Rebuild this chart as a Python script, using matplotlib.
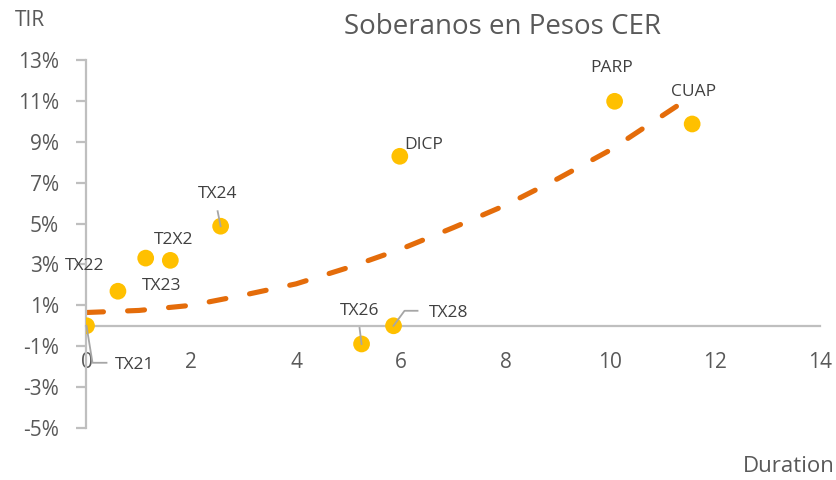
import numpy as np
import matplotlib
matplotlib.use("Agg")
import matplotlib.pyplot as plt
from matplotlib.lines import Line2D
from matplotlib.transforms import IdentityTransform

plt.rcParams['font.family'] = ['Open Sans', 'DejaVu Sans']

# Bond data: duration (years) and TIR (%)
bonds = ['TX21', 'TX22', 'TX23', 'T2X2', 'TX24', 'DICP', 'TX26', 'TX28', 'PARP', 'CUAP']
duration = [0.0, 0.60, 1.13, 1.60, 2.56, 5.98, 5.25, 5.86, 10.08, 11.56]
tir = [0.0, 1.69, 3.31, 3.20, 4.87, 8.29, -0.89, 0.0, 10.98, 9.87]

# Trend line
trend_x = [0.0, 1.0, 2.0, 3.0, 4.0, 5.0, 6.0, 7.0, 8.0, 9.0, 10.0, 11.3]
trend_y = [0.65, 0.75, 1.0, 1.5, 2.05, 2.85, 3.75, 4.8, 5.9, 7.2, 8.6, 10.8]

x_ticks = [0, 2, 4, 6, 8, 10, 12, 14]
y_ticks = [-5, -3, -1, 1, 3, 5, 7, 9, 11, 13]

# label offsets in pixels (dx, dy) and leader line vertices
label_offsets = {
    'TX21': (48, -39), 'TX22': (-33, 25), 'TX23': (16, -28), 'T2X2': (3, 20),
    'TX24': (-3, 32), 'DICP': (24, 11), 'TX26': (-2, 33), 'TX28': (55, 13),
    'PARP': (-3, 33), 'CUAP': (1, 32),
}
leaders = {
    'TX21': [(0, 0), (6, -37), (20, -37)],
    'TX24': [(0, 0), (-3, 15)],
    'TX26': [(0, 0), (-2, 16)],
    'TX28': [(0, 0), (11, 15), (24, 15)],
}

GRAY = '#595959'
DARK = '#404040'
AXIS = '#BFBFBF'

fig = plt.figure(figsize=(8.37, 4.80), dpi=100)
ax = fig.add_axes([86.5 / 837, 1 - 428 / 480, (820 - 86.5) / 837, 368 / 480])
ax.set_xlim(0, 14)
ax.set_ylim(-5, 13)

ax.plot(trend_x, trend_y, color='#E46C0A', lw=3.7, dashes=(3.3, 4.7),
        dash_capstyle='round', solid_capstyle='round', zorder=2)
ax.scatter(duration, tir, s=145, color='#FFC000', edgecolors='none', zorder=3)

for sp in ['top', 'right']:
    ax.spines[sp].set_visible(False)
ax.spines['left'].set_position(('data', 0))
ax.spines['bottom'].set_position(('data', 0))
for sp in ['left', 'bottom']:
    ax.spines[sp].set_color(AXIS)
    ax.spines[sp].set_linewidth(1.6)

ax.set_xticks(x_ticks)
ax.set_xticklabels([str(v) for v in x_ticks])
ax.set_yticks(y_ticks)
ax.set_yticklabels([f'{v}%' for v in y_ticks])
ax.tick_params(axis='x', length=0, pad=19, labelsize=15, labelcolor=GRAY)
ax.tick_params(axis='y', length=7, width=1.6, color=AXIS, pad=13,
               labelsize=15, labelcolor=GRAY)

fig.text(503 / 837, 1 - 27 / 480, 'Soberanos en Pesos CER', ha='center', va='center',
         fontsize=20, color=GRAY)
fig.text(30 / 837, 1 - 20 / 480, 'TIR', ha='center', va='center', fontsize=15, color=GRAY)
fig.text(835 / 837, 1 - 467 / 480, 'Duration', ha='right', va='center', fontsize=16, color=GRAY)

fig.canvas.draw()
for name, x, y in zip(bonds, duration, tir):
    dx, dy = label_offsets[name]
    ax.annotate(name, (x, y), xytext=(dx * 0.72, dy * 0.72), textcoords='offset points',
                ha='center', va='center', fontsize=12.5, color=DARK, zorder=4)
    if name in leaders:
        px, py = ax.transData.transform((x, y))
        vx = [px + v[0] for v in leaders[name]]
        vy = [py + v[1] for v in leaders[name]]
        fig.add_artist(Line2D(vx, vy, transform=IdentityTransform(), color='#A6A6A6',
                              lw=1.3, zorder=4))

fig.savefig('out.png', dpi=100)
